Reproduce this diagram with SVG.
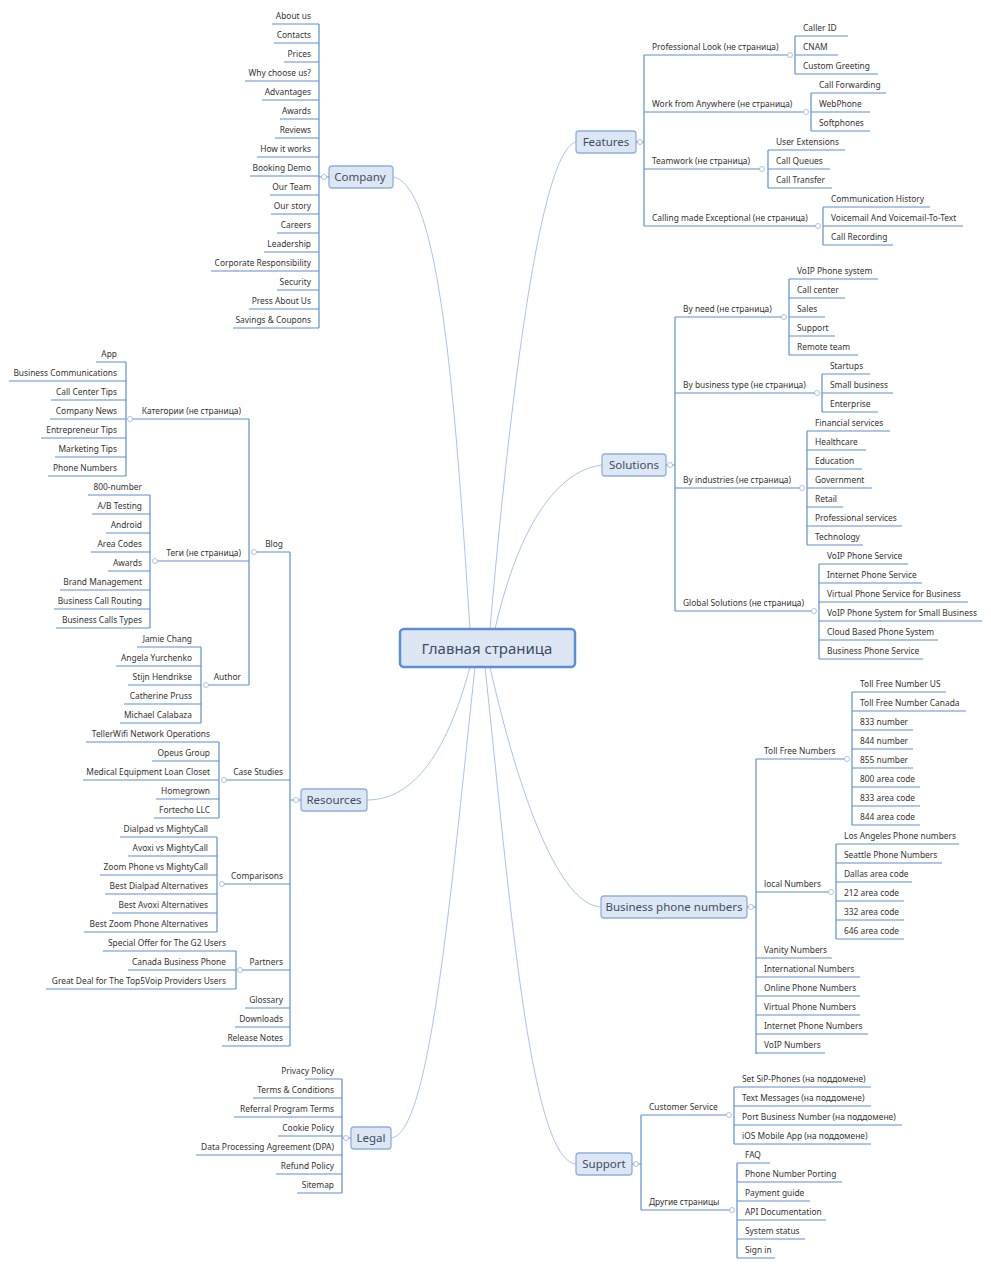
<svg xmlns="http://www.w3.org/2000/svg" width="991" height="1267" viewBox="0 0 991 1267">
<style>
text{font-family:"Noto Sans","Liberation Sans",sans-serif;font-size:8.4px;fill:#333}
.r{text-anchor:end}
.u,.b{stroke:#5d8fd6;stroke-width:1.2;fill:none}
.k{stroke:#a9c3ea;stroke-width:1;fill:none}
.c{fill:#fff;stroke:#a0b4cc;stroke-width:0.8}
.m{fill:#dde6f3;stroke:#8fb0dc;stroke-width:1.3}
.mt{font-size:11.5px;fill:#3d4d66;text-anchor:middle}
</style>
<rect width="991" height="1267" fill="#fff"/>
<g id="connectors" class="k">
<path d="M470,629 C455,400 440,185 393,177"/>
<path d="M490,629 C510,400 540,150 576,142"/>
<path d="M495,629 C520,520 560,470 602,465"/>
<path d="M470,667 C445,760 410,800 367,800"/>
<path d="M490,667 C520,800 560,905 601,907"/>
<path d="M475,667 C450,900 430,1135 391,1138"/>
<path d="M485,667 C510,900 530,1160 576,1164"/>
</g>
<g id="center"><rect x="400" y="629" width="175" height="38" rx="4" fill="#dde6f3" stroke="#5b8ed6" stroke-width="2.5"/><text x="487" y="654" class="mt" style="font-size:15px">Главная страница</text></g>

<g id="company">
<rect class="m" x="329" y="166" width="64" height="22" rx="3"/><text class="mt" x="360" y="181">Company</text>
<path class="b" d="M319,24 V328 M319,177 H329"/><circle class="c" cx="324" cy="177" r="2.5"/>
<path class="u" d="M272,24H319M274,43H319M284,62H319M245,81H319M262,100H319M280,119H319M275,138H319M257,157H319M250,176H319M270,195H319M271,214H319M277,233H319M264,252H319M211,271H319M277,290H319M249,309H319M233,328H319"/>
<text class="r" x="311" y="19">About us</text><text class="r" x="311" y="38">Contacts</text><text class="r" x="311" y="57">Prices</text><text class="r" x="311" y="76">Why choose us?</text><text class="r" x="311" y="95">Advantages</text><text class="r" x="311" y="114">Awards</text><text class="r" x="311" y="133">Reviews</text><text class="r" x="311" y="152">How it works</text><text class="r" x="311" y="171">Booking Demo</text><text class="r" x="311" y="190">Our Team</text><text class="r" x="311" y="209">Our story</text><text class="r" x="311" y="228">Careers</text><text class="r" x="311" y="247">Leadership</text><text class="r" x="311" y="266">Corporate Responsibility</text><text class="r" x="311" y="285">Security</text><text class="r" x="311" y="304">Press About Us</text><text class="r" x="311" y="323">Savings &amp; Coupons</text>
</g>

<g id="features">
<rect class="m" x="576" y="131" width="60" height="22" rx="3"/><text class="mt" x="606" y="146">Features</text>
<path class="b" d="M644,55V226M636,142H644"/><circle class="c" cx="640" cy="142" r="2.5"/>
<path class="u" d="M644,55H790M644,112H806M644,169H762M644,226H818"/>
<text x="652" y="50">Professional Look (не страница)</text><text x="652" y="107">Work from Anywhere (не страница)</text><text x="652" y="164">Teamwork (не страница)</text><text x="652" y="221">Calling made Exceptional (не страница)</text>
<path class="b" d="M795,36V74M811,93V131M768,150V188M823,207V245"/>
<circle class="c" cx="790" cy="55" r="2.5"/><circle class="c" cx="806" cy="112" r="2.5"/><circle class="c" cx="762" cy="169" r="2.5"/><circle class="c" cx="818" cy="226" r="2.5"/>
<path class="u" d="M795,36H848M795,55H838M795,74H878M811,93H886M811,112H870M811,131H870M768,150H845M768,169H830M768,188H832M823,207H930M823,226H963M823,245H893"/>
<text x="803" y="31">Caller ID</text><text x="803" y="50">CNAM</text><text x="803" y="69">Custom Greeting</text>
<text x="819" y="88">Call Forwarding</text><text x="819" y="107">WebPhone</text><text x="819" y="126">Softphones</text>
<text x="776" y="145">User Extensions</text><text x="776" y="164">Call Queues</text><text x="776" y="183">Call Transfer</text>
<text x="831" y="202">Communication History</text><text x="831" y="221">Voicemail And Voicemail-To-Text</text><text x="831" y="240">Call Recording</text>
</g>

<g id="solutions">
<rect class="m" x="602" y="454" width="64" height="22" rx="3"/><text class="mt" x="634" y="469">Solutions</text>
<path class="b" d="M675,317V611M666,465H675"/><circle class="c" cx="670" cy="465" r="2.5"/>
<path class="u" d="M675,317H783M675,393H817M675,488H801M675,611H813"/>
<text x="683" y="312">By need (не страница)</text><text x="683" y="388">By business type (не страница)</text><text x="683" y="483">By industries (не страница)</text><text x="683" y="606">Global Solutions (не страница)</text>
<path class="b" d="M789,279V355M822,374V412M807,431V545M819,564V659"/>
<circle class="c" cx="784" cy="317" r="2.5"/><circle class="c" cx="817" cy="393" r="2.5"/><circle class="c" cx="802" cy="488" r="2.5"/><circle class="c" cx="814" cy="611" r="2.5"/>
<path class="u" d="M789,279H878M789,298H845M789,317H825M789,336H835M789,355H858M822,374H870M822,393H893M822,412H878M807,431H890M807,450H866M807,469H862M807,488H872M807,507H843M807,526H902M807,545H863M819,564H908M819,583H922M819,602H968M819,621H982M819,640H938M819,659H923"/>
<text x="797" y="274">VoIP Phone system</text><text x="797" y="293">Call center</text><text x="797" y="312">Sales</text><text x="797" y="331">Support</text><text x="797" y="350">Remote team</text>
<text x="830" y="369">Startups</text><text x="830" y="388">Small business</text><text x="830" y="407">Enterprise</text>
<text x="815" y="426">Financial services</text><text x="815" y="445">Healthcare</text><text x="815" y="464">Education</text><text x="815" y="483">Government</text><text x="815" y="502">Retail</text><text x="815" y="521">Professional services</text><text x="815" y="540">Technology</text>
<text x="827" y="559">VoIP Phone Service</text><text x="827" y="578">Internet Phone Service</text><text x="827" y="597">Virtual Phone Service for Business</text><text x="827" y="616">VoIP Phone System for Small Business</text><text x="827" y="635">Cloud Based Phone System</text><text x="827" y="654">Business Phone Service</text>
</g>

<g id="bpn">
<rect class="m" x="601" y="896" width="146" height="22" rx="3"/><text class="mt" x="674" y="911">Business phone numbers</text>
<path class="b" d="M756,759V1054M747,907H756"/><circle class="c" cx="751" cy="907" r="2.5"/>
<path class="u" d="M756,759H847M756,892H831M756,958H832M756,977H860M756,996H860M756,1015H860M756,1034H868M756,1053H825"/>
<text x="764" y="754">Toll Free Numbers</text><text x="764" y="887">local Numbers</text><text x="764" y="953">Vanity Numbers</text><text x="764" y="972">International Numbers</text><text x="764" y="991">Online Phone Numbers</text><text x="764" y="1010">Virtual Phone Numbers</text><text x="764" y="1029">Internet Phone Numbers</text><text x="764" y="1048">VoIP Numbers</text>
<path class="b" d="M852,692V825M836,844V939"/>
<circle class="c" cx="847" cy="759" r="2.5"/><circle class="c" cx="831" cy="892" r="2.5"/>
<path class="u" d="M852,692H946M852,711H966M852,730H913M852,749H913M852,768H913M852,787H920M852,806H920M852,825H920M836,844H959M836,863H942M836,882H912M836,901H904M836,920H904M836,939H904"/>
<text x="860" y="687">Toll Free Number US</text><text x="860" y="706">Toll Free Number Canada</text><text x="860" y="725">833 number</text><text x="860" y="744">844 number</text><text x="860" y="763">855 number</text><text x="860" y="782">800 area code</text><text x="860" y="801">833 area code</text><text x="860" y="820">844 area code</text>
<text x="844" y="839">Los Angeles Phone numbers</text><text x="844" y="858">Seattle Phone Numbers</text><text x="844" y="877">Dallas area code</text><text x="844" y="896">212 area code</text><text x="844" y="915">332 area code</text><text x="844" y="934">646 area code</text>
</g>

<g id="support">
<rect class="m" x="576" y="1153" width="56" height="22" rx="3"/><text class="mt" x="604" y="1168">Support</text>
<path class="b" d="M641,1115V1210M632,1164H641"/><circle class="c" cx="636" cy="1164" r="2.5"/>
<path class="u" d="M641,1115H728M641,1210H731"/>
<text x="649" y="1110">Customer Service</text><text x="649" y="1205">Другие страницы</text>
<path class="b" d="M734,1087V1144M737,1163V1258"/>
<circle class="c" cx="729" cy="1115" r="2.5"/><circle class="c" cx="732" cy="1210" r="2.5"/>
<path class="u" d="M734,1087H871M734,1106H871M734,1125H902M734,1144H871M737,1163H770M737,1182H842M737,1201H810M737,1220H826M737,1239H805M737,1258H775"/>
<text x="742" y="1082">Set SiP-Phones (на поддомене)</text><text x="742" y="1101">Text Messages (на поддомене)</text><text x="742" y="1120">Port Business Number (на поддомене)</text><text x="742" y="1139">iOS Mobile App (на поддомене)</text>
<text x="745" y="1158">FAQ</text><text x="745" y="1177">Phone Number Porting</text><text x="745" y="1196">Payment guide</text><text x="745" y="1215">API Documentation</text><text x="745" y="1234">System status</text><text x="745" y="1253">Sign in</text>
</g>

<g id="resources">
<rect class="m" x="301" y="789" width="66" height="22" rx="3"/><text class="mt" x="334" y="804">Resources</text>
<path class="b" d="M290,552V1046M290,800H301"/><circle class="c" cx="296" cy="800" r="2.5"/>
<path class="u" d="M254,552H290M223,780H290M222,884H290M240,970H290M245,1008H290M235,1027H290M222,1046H290"/>
<text class="r" x="283" y="547">Blog</text><text class="r" x="283" y="775">Case Studies</text><text class="r" x="283" y="879">Comparisons</text><text class="r" x="283" y="965">Partners</text><text class="r" x="283" y="1003">Glossary</text><text class="r" x="283" y="1022">Downloads</text><text class="r" x="283" y="1041">Release Notes</text>
<path class="b" d="M249,419V685"/><circle class="c" cx="254" cy="552" r="2.5"/>
<path class="u" d="M129,419H249M154,561H249M205,685H249"/>
<text class="r" x="241" y="414">Категории (не страница)</text><text class="r" x="241" y="556">Теги (не страница)</text><text class="r" x="241" y="680">Author</text>
<path class="b" d="M126,362V476M150,495V628M201,647V723M219,742V818M217,837V932M236,951V989"/>
<circle class="c" cx="130" cy="419" r="2.5"/><circle class="c" cx="155" cy="561" r="2.5"/><circle class="c" cx="206" cy="685" r="2.5"/><circle class="c" cx="224" cy="780" r="2.5"/><circle class="c" cx="222" cy="884" r="2.5"/><circle class="c" cx="240" cy="970" r="2.5"/>
<path class="u" d="M96,362H126M9,381H126M51,400H126M50,419H126M41,438H126M55,457H126M48,476H126M88,495H150M92,514H150M106,533H150M91,552H150M108,571H150M60,590H150M54,609H150M56,628H150M137,647H201M116,666H201M128,685H201M124,704H201M120,723H201M86,742H219M152,761H219M83,780H219M156,799H219M154,818H219M120,837H217M128,856H217M100,875H217M105,894H217M112,913H217M84,932H217M103,951H236M128,970H236M46,989H236"/>
<text class="r" x="117" y="357">App</text><text class="r" x="117" y="376">Business Communications</text><text class="r" x="117" y="395">Call Center Tips</text><text class="r" x="117" y="414">Company News</text><text class="r" x="117" y="433">Entrepreneur Tips</text><text class="r" x="117" y="452">Marketing Tips</text><text class="r" x="117" y="471">Phone Numbers</text>
<text class="r" x="142" y="490">800-number</text><text class="r" x="142" y="509">A/B Testing</text><text class="r" x="142" y="528">Android</text><text class="r" x="142" y="547">Area Codes</text><text class="r" x="142" y="566">Awards</text><text class="r" x="142" y="585">Brand Management</text><text class="r" x="142" y="604">Business Call Routing</text><text class="r" x="142" y="623">Business Calls Types</text>
<text class="r" x="192" y="642">Jamie Chang</text><text class="r" x="192" y="661">Angela Yurchenko</text><text class="r" x="192" y="680">Stijn Hendrikse</text><text class="r" x="192" y="699">Catherine Pruss</text><text class="r" x="192" y="718">Michael Calabaza</text>
<text class="r" x="210" y="737">TellerWifi Network Operations</text><text class="r" x="210" y="756">Opeus Group</text><text class="r" x="210" y="775">Medical Equipment Loan Closet</text><text class="r" x="210" y="794">Homegrown</text><text class="r" x="210" y="813">Fortecho LLC</text>
<text class="r" x="208" y="832">Dialpad vs MightyCall</text><text class="r" x="208" y="851">Avoxi vs MightyCall</text><text class="r" x="208" y="870">Zoom Phone vs MightyCall</text><text class="r" x="208" y="889">Best Dialpad Alternatives</text><text class="r" x="208" y="908">Best Avoxi Alternatives</text><text class="r" x="208" y="927">Best Zoom Phone Alternatives</text>
<text class="r" x="226" y="946">Special Offer for The G2 Users</text><text class="r" x="226" y="965">Canada Business Phone</text><text class="r" x="226" y="984">Great Deal for The Top5Voip Providers Users</text>
</g>

<g id="legal">
<rect class="m" x="351" y="1127" width="40" height="22" rx="3"/><text class="mt" x="371" y="1142">Legal</text>
<path class="b" d="M342,1079V1193M342,1138H351"/><circle class="c" cx="346" cy="1138" r="2.5"/>
<path class="u" d="M305,1079H342M253,1098H342M234,1117H342M278,1136H342M196,1155H342M276,1174H342M297,1193H342"/>
<text class="r" x="334" y="1074">Privacy Policy</text><text class="r" x="334" y="1093">Terms &amp; Conditions</text><text class="r" x="334" y="1112">Referral Program Terms</text><text class="r" x="334" y="1131">Cookie Policy</text><text class="r" x="334" y="1150">Data Processing Agreement (DPA)</text><text class="r" x="334" y="1169">Refund Policy</text><text class="r" x="334" y="1188">Sitemap</text>
</g>
</svg>
